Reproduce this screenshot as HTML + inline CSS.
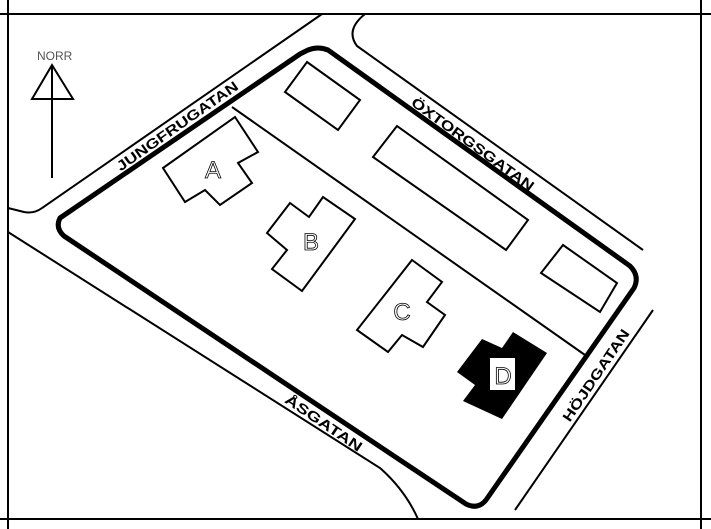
<!DOCTYPE html>
<html><head><style>
html,body{margin:0;padding:0;background:#fff;}
svg{display:block;}
text{font-family:"Liberation Sans",sans-serif;}
.st{font-weight:bold;font-size:14px;fill:#000;}
</style></head><body>
<svg width="711" height="529" viewBox="0 0 711 529" xmlns="http://www.w3.org/2000/svg">
<rect width="711" height="529" fill="#fff"/>
<g stroke="#000" fill="none" stroke-width="2">
<line x1="0" y1="14" x2="711" y2="14"/>
<line x1="8" y1="0" x2="8" y2="529"/>
<line x1="701" y1="0" x2="701" y2="529"/>
<line x1="0" y1="519" x2="711" y2="519"/>
<path d="M322 14 L42 208 Q34 214 24 212 L8 208"/>
<path d="M365 14 Q345 30 357 46 L643 250"/>
<path d="M8 232 L380 468 Q405 490 418 519"/>
<line x1="653" y1="310" x2="515" y2="510"/>
<line x1="232" y1="107" x2="585" y2="355"/>
<polygon points="307,62 360,100 338,130 285,92"/>
<polygon points="397,126 528,220 506,250 373,157"/>
<polygon points="563,245 617,283 600,312 541,273"/>
<polygon points="163,168 235,117 258,152 238,163 252,183 220,205 205,190 185,202"/>
<polygon points="290,203 309,217 323,197 355,219 302,291 272,269 287,250 267,233"/>
<polygon points="412,260 442,282 427,302 445,315 423,347 402,335 388,352 357,330"/>
<polygon points="52,65 32,99 73,99" stroke-width="2"/>
<line x1="52" y1="65" x2="52" y2="178"/>
</g>
<path d="M308 50 Q318 46 328 50 L630 266 Q640 276 634 288 L486 500 Q478 510 466 504 L64 236 Q55 228 60 218 L300 54 Z" fill="none" stroke="#000" stroke-width="5" stroke-linejoin="round"/>
<polygon points="482,339 502,348 513,332 547,353 502,419 463,401 475,385 457,372" fill="#000"/>
<rect x="490" y="358" width="25" height="32" fill="#fff"/>
<text x="37" y="60" font-size="12" fill="#555">NORR</text>
<g font-size="24" fill="#fff" stroke="#000" stroke-width="0.8" text-anchor="middle">
<text x="213" y="178">A</text>
<text x="311" y="250">B</text>
<text x="402" y="320">C</text>
<text x="503" y="384">D</text>
</g>
<text class="st" text-anchor="middle" transform="translate(180,130) rotate(-35)" textLength="145" lengthAdjust="spacingAndGlyphs">JUNGFRUGATAN</text>
<text class="st" text-anchor="middle" transform="translate(470,148) rotate(36)" textLength="148" lengthAdjust="spacingAndGlyphs">ÖXTORGSGATAN</text>
<text class="st" text-anchor="middle" transform="translate(321,427) rotate(34)" textLength="90" lengthAdjust="spacingAndGlyphs">ÅSGATAN</text>
<text class="st" text-anchor="middle" transform="translate(600,378) rotate(-56)" textLength="108" lengthAdjust="spacingAndGlyphs">HÖJDGATAN</text>
</svg>
</body></html>
